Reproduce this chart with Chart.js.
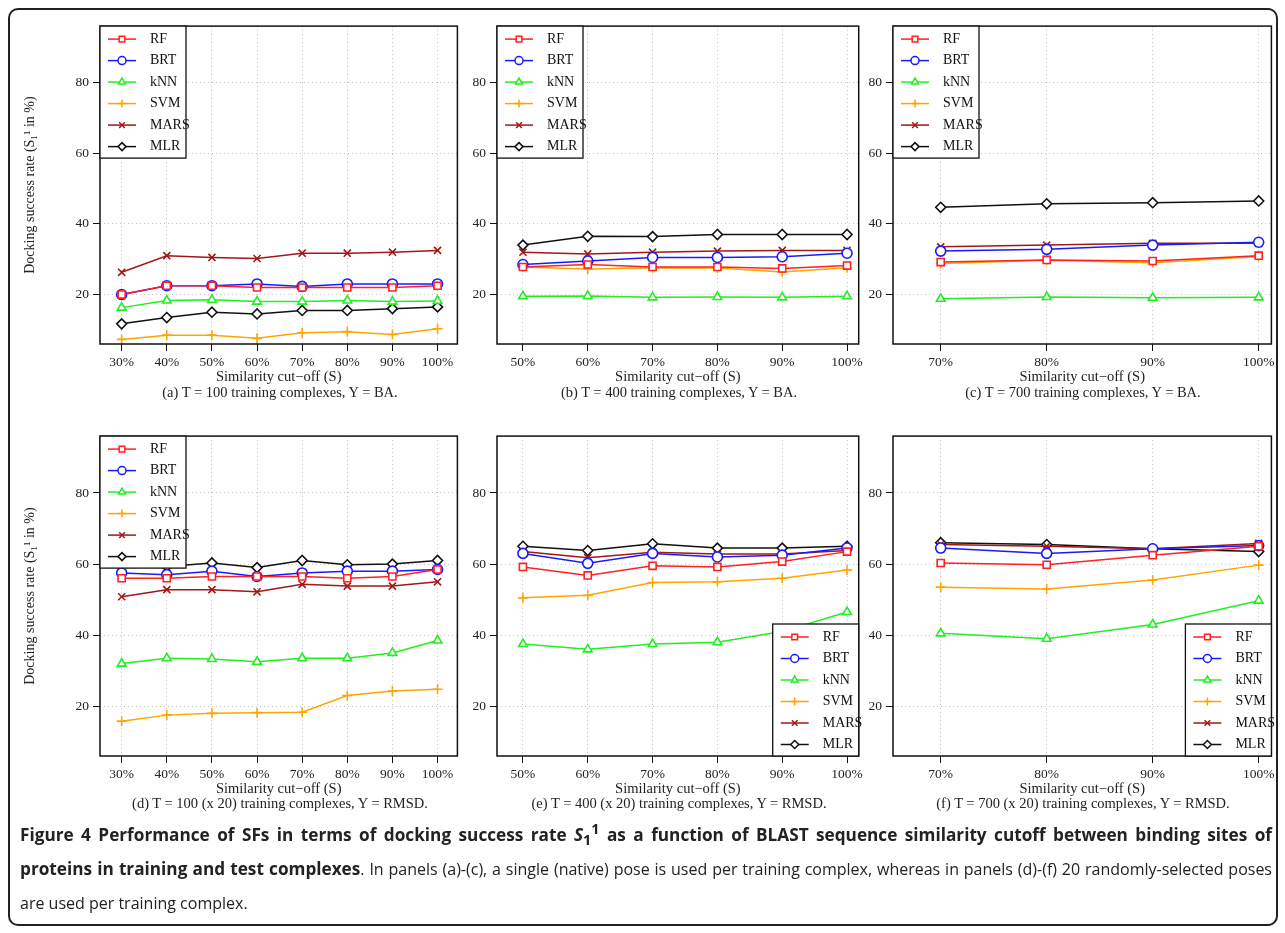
<!DOCTYPE html>
<html>
<head>
<meta charset="utf-8">
<script src="https://cdn.jsdelivr.net/npm/chart.js@4.4.1/dist/chart.umd.min.js"></script>
<style>
  body { margin: 0; background: #fff; width: 1285px; height: 933px; position: relative; overflow: hidden; }
  #frame { position: absolute; left: 8px; top: 8px; width: 1266px; height: 914px; border: 2px solid #222; border-radius: 10px; }
  canvas { position: absolute; }
  .cap { position: absolute; font-family: "Liberation Serif", "DejaVu Serif", serif; font-size: 14.5px; color: #222; text-align: center; width: 400px; }
  #fig { position: absolute; left: 20px; top: 818px; width: 1252px; font-family: "Open Sans", sans-serif; font-size: 17.2px; line-height: 34px; color: #222; text-align: justify; }
  #fig .n { font-size: 16px; }
  #fig b { font-weight: 700; }
  #fig sub, #fig sup { line-height: 0; }
</style>
</head>
<body>
<div id="frame"></div>
<canvas id="pa"></canvas><canvas id="pb"></canvas><canvas id="pc"></canvas>
<canvas id="pd"></canvas><canvas id="pe"></canvas><canvas id="pf"></canvas>
<div class="cap" style="left:80px;top:384px">(a) T = 100 training complexes, Y = BA.</div>
<div class="cap" style="left:479px;top:384px">(b) T = 400 training complexes, Y = BA.</div>
<div class="cap" style="left:883px;top:384px">(c) T = 700 training complexes, Y = BA.</div>
<div class="cap" style="left:80px;top:795px">(d) T = 100 (x 20) training complexes, Y = RMSD.</div>
<div class="cap" style="left:479px;top:795px">(e) T = 400 (x 20) training complexes, Y = RMSD.</div>
<div class="cap" style="left:883px;top:795px">(f) T = 700 (x 20) training complexes, Y = RMSD.</div>
<div id="fig"><b>Figure 4 Performance of SFs in terms of docking success rate <i>S</i><sub>1</sub><sup>1</sup> as a function of BLAST sequence similarity cutoff between binding sites of proteins in training and test complexes</b><span class="n">. In panels (a)-(c), a single (native) pose is used per training complex, whereas in panels (d)-(f) 20 randomly-selected poses are used per training complex.</span></div>
<script>
const methods = ['RF', 'BRT', 'kNN', 'SVM', 'MARS', 'MLR'];
const yTicks = [20, 40, 60, 80];

const cutA = [30, 40, 50, 60, 70, 80, 90, 100];
const cutB = [50, 60, 70, 80, 90, 100];
const cutC = [70, 80, 90, 100];

// (a) T = 100, Y = BA
const rfA   = [20, 22.5, 22.5, 22, 22, 22, 22, 22.5];
const brtA  = [20, 22.5, 22.5, 23, 22.3, 23, 23, 23];
const knnA  = [16.3, 18.3, 18.5, 18, 18, 18.3, 18, 18.2];
const svmA  = [7.3, 8.5, 8.5, 7.6, 9.2, 9.5, 8.7, 10.3];
const marsA = [26.3, 31, 30.5, 30.2, 31.7, 31.7, 32, 32.5];
const mlrA  = [11.7, 13.5, 15, 14.5, 15.5, 15.5, 16, 16.5];
// (b) T = 400, Y = BA
const rfB   = [27.8, 28.5, 27.8, 27.8, 27.4, 28.2];
const brtB  = [28.5, 29.5, 30.5, 30.5, 30.7, 31.7];
const knnB  = [19.5, 19.6, 19.2, 19.3, 19.2, 19.5];
const svmB  = [27.8, 27.2, 27.6, 27.5, 26.4, 27.6];
const marsB = [32, 31.5, 32, 32.3, 32.5, 32.5];
const mlrB  = [34, 36.5, 36.4, 37, 37, 37];
// (c) T = 700, Y = BA
const rfC   = [29.2, 29.8, 29.5, 31];
const brtC  = [32.3, 32.8, 34, 34.8];
const knnC  = [18.8, 19.3, 19.1, 19.2];
const svmC  = [28.8, 29.7, 29, 30.8];
const marsC = [33.5, 34, 34.5, 34.5];
const mlrC  = [44.7, 45.7, 46, 46.5];
// (d) T = 100 (x 20), Y = RMSD
const rfD   = [56, 56, 56.5, 56.5, 56.5, 56, 56.5, 58.5];
const brtD  = [57.5, 57, 58, 56.5, 57.5, 58, 58, 58.5];
const knnD  = [32, 33.5, 33.3, 32.5, 33.5, 33.5, 35, 38.5];
const svmD  = [15.8, 17.5, 18, 18.2, 18.3, 23, 24.3, 24.8];
const marsD = [50.8, 52.8, 52.8, 52.2, 54.3, 53.8, 53.8, 55];
const mlrD  = [60, 59.3, 60.3, 59, 61, 59.8, 60, 61];
// (e) T = 400 (x 20), Y = RMSD
const rfE   = [59.2, 56.8, 59.5, 59.2, 60.7, 63.5];
const brtE  = [63, 60.2, 63, 62, 62.5, 64.5];
const knnE  = [37.5, 36, 37.5, 38, 41, 46.5];
const svmE  = [50.5, 51.2, 54.8, 55, 56, 58.3];
const marsE = [63.5, 61.8, 63.3, 62.8, 62.8, 63.8];
const mlrE  = [65, 63.8, 65.7, 64.5, 64.5, 65];
// (f) T = 700 (x 20), Y = RMSD
const rfF   = [60.3, 59.8, 62.5, 65];
const brtF  = [64.5, 63, 64.3, 65.2];
const knnF  = [40.5, 39, 43, 49.7];
const svmF  = [53.5, 53, 55.5, 59.7];
const marsF = [65.5, 65, 64.3, 65.8];
const mlrF  = [66, 65.5, 64.3, 63.5];

const colors = ['#ff2020', '#1a1aff', '#22ee22', '#ffa500', '#a01818', '#111111'];
const shapes = ['rect', 'circle', 'triangle', 'cross', 'crossRot', 'rectRot'];
const serif = '"Liberation Serif", "DejaVu Serif", serif';

// legend drawn inside the plot box like R's legend()
const boxLegend = {
    id: 'boxLegend',
    afterDraw(chart, args, opts) {
        const ctx = chart.ctx, a = chart.chartArea;
        const w = 86, h = 132;
        const x = opts.corner === 'br' ? a.right - w : a.left;
        const y = opts.corner === 'br' ? a.bottom - h : a.top;
        ctx.save();
        ctx.fillStyle = '#fff';
        ctx.fillRect(x, y, w, h);
        ctx.strokeStyle = '#111';
        ctx.lineWidth = 1.3;
        ctx.strokeRect(x, y, w, h);
        ctx.font = '14px ' + serif;
        ctx.textBaseline = 'middle';
        methods.forEach((m, i) => {
            const cy = y + 13 + i * 21.5;
            ctx.strokeStyle = colors[i];
            ctx.lineWidth = 1.5;
            ctx.beginPath(); ctx.moveTo(x + 8, cy); ctx.lineTo(x + 36, cy); ctx.stroke();
            ctx.fillStyle = '#fff';
            Chart.helpers.drawPoint(ctx, { pointStyle: shapes[i], radius: 4, borderWidth: 1.5 }, x + 22, cy);
            ctx.fillStyle = '#111';
            ctx.fillText(m, x + 50, cy);
        });
        ctx.restore();
    }
};

const plotBox = {
    id: 'plotBox',
    afterDraw(chart) {
        const ctx = chart.ctx, a = chart.chartArea;
        ctx.save();
        ctx.strokeStyle = '#111';
        ctx.lineWidth = 1.5;
        ctx.strokeRect(a.left, a.top, a.right - a.left, a.bottom - a.top);
        ctx.restore();
    }
};

function makePanel(id, left, top, plotW, plotH, cuts, xMin, xMax, series, corner, showTitle) {
    const yW = showTitle ? 80 : 50, xH = 42;
    const cv = document.getElementById(id);
    cv.style.left = (left - yW) + 'px';
    cv.style.top = top + 'px';
    cv.width = yW + plotW + 4;
    cv.height = plotH + xH;
    cv.style.width = cv.width + 'px';
    cv.style.height = cv.height + 'px';
    new Chart(cv, {
        type: 'line',
        data: {
            datasets: series.map((vals, i) => ({
                label: methods[i],
                data: vals.map((v, j) => ({ x: cuts[j], y: v })),
                borderColor: colors[i],
                backgroundColor: '#fff',
                borderWidth: 1.5,
                pointStyle: shapes[i],
                pointRadius: 5,
                pointBorderWidth: 1.6,
                tension: 0
            }))
        },
        options: {
            responsive: false,
            animation: false,
            devicePixelRatio: 1,
            layout: { padding: { right: 4, top: 1 } },
            plugins: { legend: { display: false }, tooltip: { enabled: false }, boxLegend: { corner } },
            scales: {
                x: {
                    type: 'linear', min: xMin, max: xMax,
                    afterBuildTicks: s => { s.ticks = cuts.map(v => ({ value: v })); },
                    afterFit: s => { s.height = xH; },
                    grid: { color: '#c4c4c4', tickColor: '#111', tickLength: 7, tickBorderDash: [] },
                    border: { display: false, dash: [1, 3] },
                    ticks: { color: '#222', font: { family: serif, size: 13.5 }, maxRotation: 0, callback: v => v + '%', padding: 3 },
                    title: { display: true, text: 'Similarity cut\u2212off (S)', color: '#222', font: { family: serif, size: 14.5 }, padding: 0 }
                },
                y: {
                    min: 6, max: 96,
                    afterBuildTicks: s => { s.ticks = yTicks.map(v => ({ value: v })); },
                    afterFit: s => { s.width = yW; },
                    grid: { color: '#c4c4c4', tickColor: '#111', tickLength: 7, tickBorderDash: [] },
                    border: { display: false, dash: [1, 3] },
                    ticks: { color: '#222', font: { family: serif, size: 13.5 }, padding: 4 },
                    title: { display: showTitle, text: 'Docking success rate (S\u2081\u00b9 in %)', color: '#222', font: { family: serif, size: 14 }, padding: 2 }
                }
            }
        },
        plugins: [plotBox, boxLegend]
    });
}

makePanel('pa', 100, 14, 360, 330, cutA, 25.2, 104.4, [rfA, brtA, knnA, svmA, marsA, mlrA], 'tl', true);
makePanel('pb', 497, 14, 365, 330, cutB, 46, 101.8, [rfB, brtB, knnB, svmB, marsB, mlrB], 'tl', false);
makePanel('pc', 893, 14, 381, 330, cutC, 65.5, 101.2, [rfC, brtC, knnC, svmC, marsC, mlrC], 'tl', false);
makePanel('pd', 100, 424, 360, 332, cutA, 25.2, 104.4, [rfD, brtD, knnD, svmD, marsD, mlrD], 'tl', true);
makePanel('pe', 497, 424, 365, 332, cutB, 46, 101.8, [rfE, brtE, knnE, svmE, marsE, mlrE], 'br', false);
makePanel('pf', 893, 424, 381, 332, cutC, 65.5, 101.2, [rfF, brtF, knnF, svmF, marsF, mlrF], 'br', false);
</script>
</body>
</html>
